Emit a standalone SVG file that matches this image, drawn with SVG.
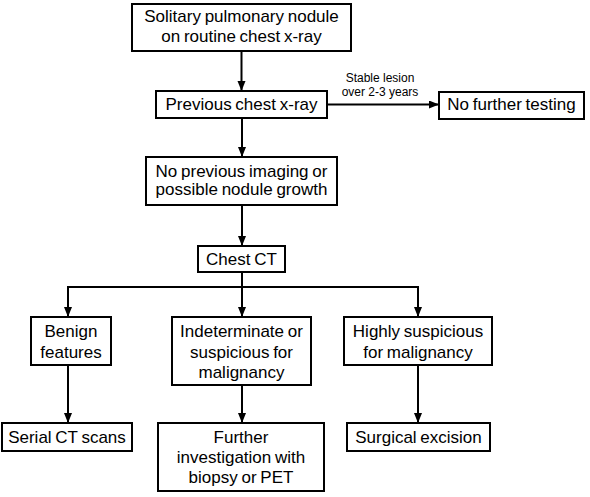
<svg xmlns="http://www.w3.org/2000/svg" width="590" height="497" viewBox="0 0 590 497">
<style>
.box{fill:#fff;stroke:#000;stroke-width:2}
.t{font-family:"Liberation Sans",Arial,sans-serif;font-size:17px;text-anchor:middle;fill:#000;word-spacing:-1px}
.s{font-family:"Liberation Sans",Arial,sans-serif;font-size:12px;text-anchor:middle;fill:#000}
.c{stroke:#000;stroke-width:2;fill:none}
</style>
<defs>
<marker id="ah" markerUnits="userSpaceOnUse" markerWidth="10" markerHeight="10" refX="10" refY="4" orient="auto">
<path d="M0,0 L10,4 L0,8 z" fill="#000"/>
</marker>
</defs>
<rect width="590" height="497" fill="#fff"/>
<g id="connectors">
<line class="c" x1="241.5" y1="51" x2="241.5" y2="91" marker-end="url(#ah)"/>
<line class="c" x1="327" y1="104.5" x2="439" y2="104.5" marker-end="url(#ah)"/>
<line class="c" x1="242" y1="118" x2="242" y2="157" marker-end="url(#ah)"/>
<line class="c" x1="242" y1="205" x2="242" y2="246" marker-end="url(#ah)"/>
<line class="c" x1="242" y1="272" x2="242" y2="317" marker-end="url(#ah)"/>
<line class="c" x1="67" y1="287" x2="419" y2="287"/>
<line class="c" x1="68" y1="286" x2="68" y2="317" marker-end="url(#ah)"/>
<line class="c" x1="418" y1="286" x2="418" y2="317" marker-end="url(#ah)"/>
<line class="c" x1="68" y1="365" x2="68" y2="423" marker-end="url(#ah)"/>
<line class="c" x1="242" y1="385" x2="242" y2="423" marker-end="url(#ah)"/>
<line class="c" x1="418" y1="365" x2="418" y2="423" marker-end="url(#ah)"/>
<text class="s" x="380" y="82">Stable lesion</text>
<text class="s" x="380" y="96">over 2-3 years</text>
</g>
<g id="n1"><rect class="box" x="132" y="4" width="219" height="47"/>
<text class="t" x="241.5" y="22">Solitary pulmonary nodule</text>
<text class="t" x="241.5" y="42">on routine chest x-ray</text></g>
<g id="n2"><rect class="box" x="156" y="91" width="171" height="27"/>
<text class="t" x="241.5" y="110">Previous chest x-ray</text></g>
<g id="n3"><rect class="box" x="439" y="92" width="145" height="27"/>
<text class="t" x="511.5" y="110">No further testing</text></g>
<g id="n4"><rect class="box" x="146" y="157" width="191" height="48"/>
<text class="t" x="241.5" y="176.5">No previous imaging or</text>
<text class="t" x="241.5" y="195">possible nodule growth</text></g>
<g id="n5"><rect class="box" x="198" y="246" width="87" height="26"/>
<text class="t" x="241.5" y="265">Chest CT</text></g>
<g id="n6"><rect class="box" x="31" y="317" width="80" height="48"/>
<text class="t" x="71" y="337">Benign</text>
<text class="t" x="71" y="357.5">features</text></g>
<g id="n7"><rect class="box" x="172" y="317" width="139" height="68"/>
<text class="t" x="241.5" y="337">Indeterminate or</text>
<text class="t" x="241.5" y="357.5">suspicious for</text>
<text class="t" x="241.5" y="378">malignancy</text></g>
<g id="n8"><rect class="box" x="344" y="317" width="148" height="48"/>
<text class="t" x="418" y="337">Highly suspicious</text>
<text class="t" x="418" y="357.5">for malignancy</text></g>
<g id="n9"><rect class="box" x="2" y="423" width="130" height="28"/>
<text class="t" x="67" y="443">Serial CT scans</text></g>
<g id="n10"><rect class="box" x="158" y="423" width="166" height="68"/>
<text class="t" x="241" y="443">Further</text>
<text class="t" x="241" y="463">investigation with</text>
<text class="t" x="241" y="483">biopsy or PET</text></g>
<g id="n11"><rect class="box" x="347" y="423" width="143" height="28"/>
<text class="t" x="418.5" y="443">Surgical excision</text></g>
</svg>
